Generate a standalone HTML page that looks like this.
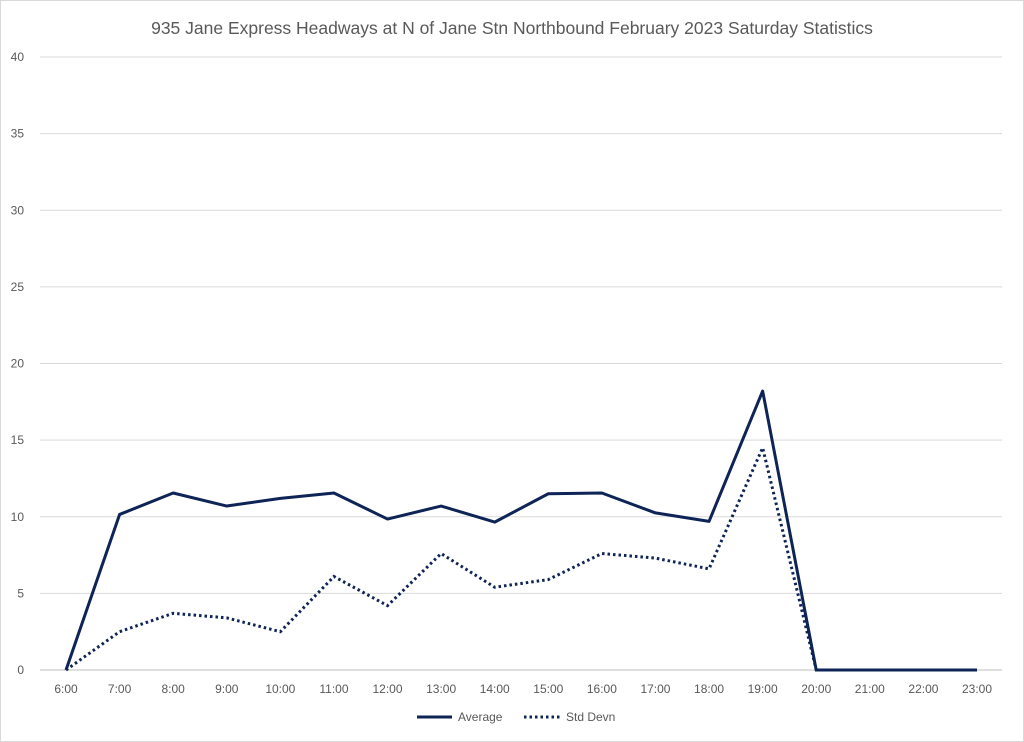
<!DOCTYPE html>
<html><head><meta charset="utf-8"><style>
body{margin:0;background:#fff;}
svg{display:block;font-family:"Liberation Sans",sans-serif;}
</style></head><body>
<svg id="chart" width="1024" height="742">
<rect x="0.5" y="0.5" width="1023" height="741" fill="#fff" stroke="#d9d9d9"/>
<text x="512" y="34" text-anchor="middle" font-size="17.5" fill="#595959">935 Jane Express Headways at N of Jane Stn Northbound February 2023 Saturday Statistics</text>
<g id="grid"></g><g id="xt"></g><g id="series"></g>
<g>
<line x1="417" y1="717" x2="452" y2="717" stroke="#0e2356" stroke-width="3"/>
<text x="458" y="721" font-size="12" fill="#595959">Average</text>
<line x1="524" y1="717" x2="560" y2="717" stroke="#0e2356" stroke-width="3" stroke-dasharray="2.5,3"/>
<text x="566" y="721" font-size="12" fill="#595959">Std Devn</text>
</g>
</svg>
<script>
const categories=["6:00","7:00","8:00","9:00","10:00","11:00","12:00","13:00","14:00","15:00","16:00","17:00","18:00","19:00","20:00","21:00","22:00","23:00"];
const averageValues=[0,10.15,11.55,10.7,11.2,11.55,9.85,10.7,9.65,11.5,11.55,10.25,9.7,18.2,0,0,0,0];
const stdDevValues=[0,2.5,3.7,3.4,2.5,6.1,4.2,7.6,5.4,5.9,7.6,7.3,6.6,14.5,0,0,0,0];
const yTicks=[0,5,10,15,20,25,30,35,40];
const NS="http://www.w3.org/2000/svg";
const x=i=>66+i*(977-66)/(categories.length-1);
const y=v=>670-v*(670-57)/40;
function mk(t,a,p){const e=document.createElementNS(NS,t);for(const k in a)e.setAttribute(k,a[k]);p.appendChild(e);return e;}
const grid=document.getElementById('grid');
yTicks.forEach(v=>{
  const l=mk('line',{x1:40,x2:1002,y1:y(v),y2:y(v),stroke:v===0?'#bfbfbf':'#d9d9d9','stroke-width':1},grid);
  
  
  const t=mk('text',{x:24,y:y(v)+4,'text-anchor':'end','font-size':12,fill:'#595959'},grid);
  t.textContent=v;
  
  
});
const xt=document.getElementById('xt');
categories.forEach((c,i)=>{
  const t=mk('text',{x:x(i),y:693,'text-anchor':'middle','font-size':12,fill:'#595959'},xt);
  t.textContent=c;
  
  
});
const s=document.getElementById('series');
const pts=a=>a.map((v,i)=>x(i)+','+y(v)).join(' ');
const sd=mk('polyline',{points:pts(stdDevValues),fill:'none',stroke:'#0e2356','stroke-width':3,'stroke-dasharray':'2.5,3'},s);


const av=mk('polyline',{points:pts(averageValues),fill:'none',stroke:'#0e2356','stroke-width':3,'stroke-linejoin':'round'},s);


</script>
</body></html>
